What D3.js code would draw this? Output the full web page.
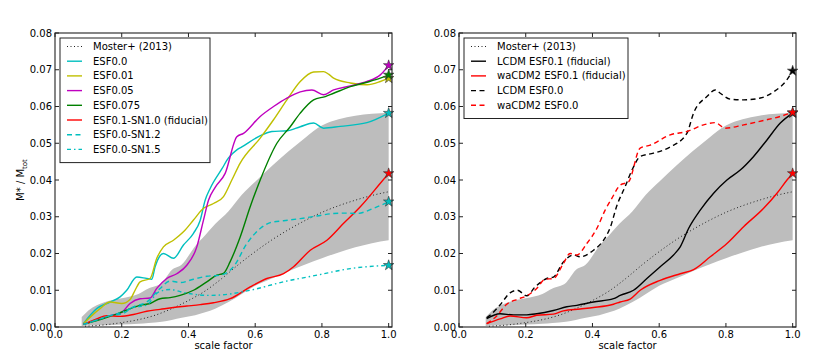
<!DOCTYPE html>
<html lang="en">
<head>
    <meta charset="UTF-8">
    <script src="https://cdnjs.cloudflare.com/ajax/libs/d3/7.8.5/d3.min.js"></script>
    <title>Stellar mass fraction</title>
    <style>
        body { margin: 0; background: white; }
        text { font-family: 'DejaVu Sans', sans-serif; font-size: 10px; fill: #000; }
    </style>
</head>
<body>
    <div class="fig"></div>

    <script>
        // Moster+ (2013) band and median
        const bandA     = [0.08, 0.1, 0.15, 0.2, 0.25, 0.28, 0.32, 0.35, 0.38, 0.42, 0.45, 0.48, 0.52, 0.56, 0.6, 0.65, 0.7, 0.75, 0.8, 0.85, 0.9, 0.95, 1.0];
        const bandUpper = [0.0027, 0.0045, 0.0068, 0.0078, 0.009, 0.0105, 0.012, 0.0155, 0.017, 0.022, 0.025, 0.028, 0.0315, 0.036, 0.0395, 0.0438, 0.0478, 0.0515, 0.0548, 0.0565, 0.0575, 0.058, 0.0583];
        const bandLower = [0.0003, 0.0004, 0.0005, 0.0007, 0.0009, 0.0011, 0.0014, 0.0019, 0.0025, 0.0032, 0.004, 0.005, 0.0068, 0.009, 0.0112, 0.0132, 0.0152, 0.017, 0.0187, 0.0203, 0.0217, 0.0228, 0.0236];
        const mosterA   = [0.09, 0.15, 0.2, 0.25, 0.3, 0.35, 0.4, 0.45, 0.5, 0.55, 0.6, 0.65, 0.7, 0.75, 0.8, 0.85, 0.9, 0.95, 1.0];
        const mosterV   = [0.0002, 0.0006, 0.0012, 0.002, 0.0032, 0.005, 0.0072, 0.0098, 0.0132, 0.017, 0.0205, 0.0237, 0.0265, 0.029, 0.0312, 0.033, 0.0345, 0.0358, 0.0368];

        // left panel runs
        const esf00A = [0.085, 0.125, 0.165, 0.195, 0.215, 0.245, 0.275, 0.29, 0.30, 0.325, 0.355, 0.385, 0.415, 0.435, 0.45, 0.465, 0.5, 0.52, 0.545, 0.56, 0.61, 0.65, 0.695, 0.735, 0.775, 0.805, 0.855, 0.935, 1.0];
        const esf00V = [0.0009, 0.005, 0.0068, 0.0082, 0.010, 0.0136, 0.0132, 0.013, 0.0164, 0.020, 0.0187, 0.0223, 0.0255, 0.029, 0.0345, 0.0377, 0.043, 0.046, 0.0482, 0.049, 0.0518, 0.0532, 0.0534, 0.0545, 0.0555, 0.0541, 0.0546, 0.0556, 0.0582];

        const esf001A = [0.085, 0.135, 0.165, 0.2, 0.225, 0.24, 0.255, 0.285, 0.305, 0.325, 0.355, 0.385, 0.415, 0.445, 0.475, 0.505, 0.53, 0.555, 0.615, 0.655, 0.695, 0.735, 0.775, 0.805, 0.82, 0.835, 0.885, 0.935, 0.975, 1.0];
        const esf001V = [0.0009, 0.005, 0.0068, 0.0064, 0.0075, 0.010, 0.0123, 0.0132, 0.0187, 0.0218, 0.0236, 0.0259, 0.0291, 0.0323, 0.0336, 0.0355, 0.040, 0.0446, 0.0514, 0.0564, 0.0618, 0.0668, 0.0694, 0.0695, 0.0688, 0.0677, 0.0664, 0.0659, 0.0668, 0.0677];

        const esf005A = [0.085, 0.135, 0.165, 0.2, 0.225, 0.255, 0.285, 0.305, 0.335, 0.365, 0.395, 0.425, 0.445, 0.46, 0.48, 0.51, 0.545, 0.565, 0.615, 0.655, 0.695, 0.735, 0.77, 0.805, 0.835, 0.885, 0.935, 0.975, 1.0];
        const esf005V = [0.0007, 0.0022, 0.0031, 0.004, 0.0064, 0.0077, 0.0079, 0.0105, 0.0132, 0.0145, 0.0168, 0.0218, 0.0291, 0.0345, 0.038, 0.0418, 0.0518, 0.0527, 0.0573, 0.060, 0.0623, 0.064, 0.0645, 0.0632, 0.0645, 0.0656, 0.0668, 0.0686, 0.0712];

        const esf0075A = [0.085, 0.135, 0.185, 0.225, 0.255, 0.285, 0.315, 0.345, 0.375, 0.415, 0.455, 0.485, 0.505, 0.525, 0.555, 0.585, 0.615, 0.665, 0.705, 0.735, 0.775, 0.81, 0.835, 0.885, 0.935, 0.975, 1.0];
        const esf0075V = [0.0007, 0.002, 0.0035, 0.005, 0.0059, 0.0064, 0.0077, 0.008, 0.0086, 0.010, 0.0123, 0.0141, 0.0146, 0.0178, 0.0245, 0.0327, 0.040, 0.050, 0.0545, 0.0582, 0.0618, 0.0627, 0.0636, 0.0654, 0.0666, 0.0677, 0.0686];

        const fidA = [0.085, 0.125, 0.155, 0.195, 0.235, 0.275, 0.315, 0.355, 0.395, 0.435, 0.475, 0.525, 0.585, 0.635, 0.685, 0.715, 0.765, 0.815, 0.865, 0.915, 0.975, 1.0];
        const fidV = [0.0007, 0.0022, 0.0031, 0.0029, 0.0034, 0.0043, 0.0048, 0.0053, 0.0057, 0.0061, 0.0066, 0.0077, 0.0109, 0.0132, 0.0145, 0.0164, 0.0209, 0.0236, 0.0282, 0.0327, 0.0391, 0.0418];

        const sn12A = [0.085, 0.135, 0.165, 0.2, 0.235, 0.275, 0.315, 0.345, 0.375, 0.415, 0.455, 0.495, 0.535, 0.575, 0.615, 0.645, 0.685, 0.735, 0.785, 0.835, 0.865, 0.905, 0.955, 1.0];
        const sn12V = [0.0007, 0.0022, 0.0031, 0.0035, 0.0055, 0.0068, 0.0105, 0.0125, 0.0121, 0.013, 0.0138, 0.0141, 0.0164, 0.0227, 0.0268, 0.0284, 0.0289, 0.0295, 0.0302, 0.0309, 0.031, 0.0309, 0.0323, 0.0341];

        const sn15A = [0.085, 0.135, 0.165, 0.2, 0.235, 0.275, 0.31, 0.345, 0.385, 0.425, 0.465, 0.495, 0.585, 0.685, 0.785, 0.885, 1.0];
        const sn15V = [0.0007, 0.0022, 0.0031, 0.004, 0.0053, 0.006, 0.0095, 0.0102, 0.0094, 0.0088, 0.0086, 0.0087, 0.010, 0.0123, 0.0141, 0.0159, 0.0168];

        // right panel runs
        const lcdmFidA = [0.083, 0.123, 0.163, 0.203, 0.233, 0.283, 0.323, 0.353, 0.403, 0.463, 0.483, 0.523, 0.563, 0.603, 0.643, 0.663, 0.688, 0.723, 0.763, 0.803, 0.843, 0.883, 0.923, 0.963, 1.0];
        const lcdmFidV = [0.0023, 0.0036, 0.0033, 0.0033, 0.0036, 0.0045, 0.0055, 0.0059, 0.0068, 0.0077, 0.0086, 0.010, 0.0132, 0.0164, 0.0196, 0.0218, 0.0268, 0.0318, 0.0364, 0.040, 0.0427, 0.0464, 0.0509, 0.0555, 0.0582];

        const wacdmFidA = [0.083, 0.123, 0.153, 0.203, 0.233, 0.283, 0.313, 0.363, 0.403, 0.463, 0.483, 0.513, 0.543, 0.603, 0.663, 0.703, 0.753, 0.803, 0.853, 0.913, 0.953, 0.983, 1.0];
        const wacdmFidV = [0.0009, 0.0022, 0.003, 0.0025, 0.0032, 0.0035, 0.0044, 0.0049, 0.0053, 0.0062, 0.0068, 0.0076, 0.010, 0.0127, 0.0145, 0.0156, 0.0191, 0.0227, 0.0273, 0.0323, 0.0364, 0.040, 0.0418];

        const lcdm00A = [0.083, 0.093, 0.123, 0.153, 0.175, 0.203, 0.228, 0.263, 0.283, 0.313, 0.343, 0.363, 0.403, 0.433, 0.453, 0.473, 0.497, 0.52, 0.543, 0.583, 0.633, 0.683, 0.703, 0.743, 0.768, 0.783, 0.813, 0.853, 0.903, 0.943, 0.983, 1.0];
        const lcdm00V = [0.0025, 0.0032, 0.006, 0.0093, 0.010, 0.0085, 0.0109, 0.0132, 0.0136, 0.0177, 0.0196, 0.0191, 0.0209, 0.0236, 0.027, 0.033, 0.038, 0.043, 0.0464, 0.0473, 0.049, 0.0527, 0.0582, 0.0627, 0.0645, 0.0636, 0.062, 0.0618, 0.0623, 0.064, 0.0673, 0.0697];

        const wacdm00A = [0.083, 0.113, 0.143, 0.173, 0.203, 0.233, 0.258, 0.283, 0.313, 0.333, 0.353, 0.383, 0.413, 0.438, 0.458, 0.483, 0.508, 0.543, 0.573, 0.633, 0.683, 0.733, 0.768, 0.798, 0.853, 0.913, 0.963, 1.0];
        const wacdm00V = [0.0009, 0.003, 0.0062, 0.0075, 0.0085, 0.0105, 0.013, 0.0132, 0.0173, 0.020, 0.0196, 0.0227, 0.0268, 0.0318, 0.035, 0.0386, 0.0395, 0.0487, 0.0495, 0.0523, 0.0532, 0.055, 0.0556, 0.0541, 0.055, 0.0562, 0.0573, 0.0584];

        const xTicks = [0.0, 0.2, 0.4, 0.6, 0.8, 1.0];
        const yTicks = [0.00, 0.01, 0.02, 0.03, 0.04, 0.05, 0.06, 0.07, 0.08];

        const CYAN = "#00bfbf", YELLOW = "#bfbf00", MAGENTA = "#bf00bf", GREEN = "#008000", RED = "#ff0000", BLACK = "#000000";
        const DASH = "5,3.5", DASHDOT = "4,3,1.5,3", DOT = "1,2.5";

        const zip = (a, v) => a.map((d, i) => ({ a: d, v: v[i] }));

        const leftSeries = [
            { name: "ESF0.0", a: esf00A, v: esf00V, color: CYAN, dash: null },
            { name: "ESF0.01", a: esf001A, v: esf001V, color: YELLOW, dash: null },
            { name: "ESF0.05", a: esf005A, v: esf005V, color: MAGENTA, dash: null },
            { name: "ESF0.075", a: esf0075A, v: esf0075V, color: GREEN, dash: null },
            { name: "ESF0.1-SN1.0 (fiducial)", a: fidA, v: fidV, color: RED, dash: null },
            { name: "ESF0.0-SN1.2", a: sn12A, v: sn12V, color: CYAN, dash: DASH },
            { name: "ESF0.0-SN1.5", a: sn15A, v: sn15V, color: CYAN, dash: DASHDOT }
        ];

        const rightSeries = [
            { name: "LCDM ESF0.1 (fiducial)", a: lcdmFidA, v: lcdmFidV, color: BLACK, dash: null },
            { name: "waCDM2 ESF0.1 (fiducial)", a: wacdmFidA, v: wacdmFidV, color: RED, dash: null },
            { name: "LCDM ESF0.0", a: lcdm00A, v: lcdm00V, color: BLACK, dash: DASH },
            { name: "waCDM2 ESF0.0", a: wacdm00A, v: wacdm00V, color: RED, dash: DASH }
        ];

        const svg = d3.select(".fig").append("svg")
            .attr("width", 830)
            .attr("height", 364);

        const yTop = 33, yBottom = 327;

        function drawPanel(left, right, series, legendWidth, showYLabel, id) {
            const x = d3.scaleLinear().domain([0, 1.01]).range([left, right]);
            const y = d3.scaleLinear().domain([0, 0.08]).range([yBottom, yTop]);
            const g = svg.append("g");

            g.append("clipPath").attr("id", id)
                .append("rect")
                .attr("x", left).attr("y", yTop)
                .attr("width", right - left).attr("height", yBottom - yTop);

            const plot = g.append("g").attr("clip-path", `url(#${id})`);

            // gray band
            const area = d3.area()
                .x(d => x(d.a))
                .y0(d => y(d.lo))
                .y1(d => y(d.hi))
                .curve(d3.curveMonotoneX);
            plot.append("path")
                .datum(bandA.map((d, i) => ({ a: d, lo: bandLower[i], hi: bandUpper[i] })))
                .attr("d", area)
                .attr("fill", "#bdbdbd");

            const line = d3.line()
                .x(d => x(d.a))
                .y(d => y(d.v))
                .curve(d3.curveMonotoneX);

            plot.append("path")
                .datum(zip(mosterA, mosterV))
                .attr("d", line)
                .attr("fill", "none")
                .attr("stroke", "#222")
                .attr("stroke-width", 1)
                .attr("stroke-dasharray", DOT);

            series.forEach(s => {
                plot.append("path")
                    .datum(zip(s.a, s.v))
                    .attr("d", line)
                    .attr("fill", "none")
                    .attr("stroke", s.color)
                    .attr("stroke-width", 1.4)
                    .attr("stroke-dasharray", s.dash);
            });

            // star markers at a = 1
            const star = d3.symbol().type(d3.symbolStar).size(34);
            series.forEach(s => {
                const n = s.a.length - 1;
                g.append("path")
                    .attr("d", star)
                    .attr("transform", `translate(${x(s.a[n])},${y(s.v[n])})`)
                    .attr("fill", s.color)
                    .attr("stroke", "#333")
                    .attr("stroke-width", 0.6);
            });

            // frame and inward ticks
            g.append("rect")
                .attr("x", left).attr("y", yTop)
                .attr("width", right - left).attr("height", yBottom - yTop)
                .attr("fill", "none")
                .attr("stroke", "#222")
                .attr("stroke-width", 1.1);

            const tickLen = 4;
            xTicks.forEach(t => {
                g.append("line").attr("x1", x(t)).attr("x2", x(t))
                    .attr("y1", yBottom).attr("y2", yBottom - tickLen).attr("stroke", "#222");
                g.append("line").attr("x1", x(t)).attr("x2", x(t))
                    .attr("y1", yTop).attr("y2", yTop + tickLen).attr("stroke", "#222");
                g.append("text")
                    .attr("x", x(t)).attr("y", yBottom + 11)
                    .attr("text-anchor", "middle")
                    .text(d3.format(".1f")(t));
            });
            yTicks.forEach(t => {
                g.append("line").attr("x1", left).attr("x2", left + tickLen)
                    .attr("y1", y(t)).attr("y2", y(t)).attr("stroke", "#222");
                g.append("line").attr("x1", right).attr("x2", right - tickLen)
                    .attr("y1", y(t)).attr("y2", y(t)).attr("stroke", "#222");
                g.append("text")
                    .attr("x", left - 3).attr("y", y(t))
                    .attr("dy", "0.35em")
                    .attr("text-anchor", "end")
                    .text(d3.format(".2f")(t));
            });

            g.append("text")
                .attr("x", (left + right) / 2).attr("y", 349)
                .attr("text-anchor", "middle")
                .text("scale factor");

            if (showYLabel) {
                const yl = g.append("text")
                    .attr("transform", "translate(24,180) rotate(-90)")
                    .attr("text-anchor", "middle");
                yl.append("tspan").text("M* / M");
                yl.append("tspan").attr("dy", 2.5).attr("font-size", "7px").text("tot");
            }

            // legend
            const items = [{ name: "Moster+ (2013)", color: "#222", dash: DOT, width: 1 }]
                .concat(series.map(s => ({ name: s.name, color: s.color, dash: s.dash, width: 1.4 })));
            const lx = left + 5, ly = 38, rowH = 14.7;
            const leg = g.append("g");
            leg.append("rect")
                .attr("x", lx).attr("y", ly)
                .attr("width", legendWidth).attr("height", items.length * rowH + 7)
                .attr("fill", "white")
                .attr("stroke", "#222")
                .attr("stroke-width", 1);
            items.forEach((it, i) => {
                const cy = ly + 8.5 + i * rowH;
                leg.append("line")
                    .attr("x1", lx + 7).attr("x2", lx + 22)
                    .attr("y1", cy).attr("y2", cy)
                    .attr("stroke", it.color)
                    .attr("stroke-width", it.width)
                    .attr("stroke-dasharray", it.dash);
                leg.append("text")
                    .attr("x", lx + 33).attr("y", cy)
                    .attr("dy", "0.35em")
                    .text(it.name);
            });
        }

        drawPanel(55, 392, leftSeries, 150, true, "clipL");
        drawPanel(459, 796, rightSeries, 164, false, "clipR");
    </script>
</body>
</html>
